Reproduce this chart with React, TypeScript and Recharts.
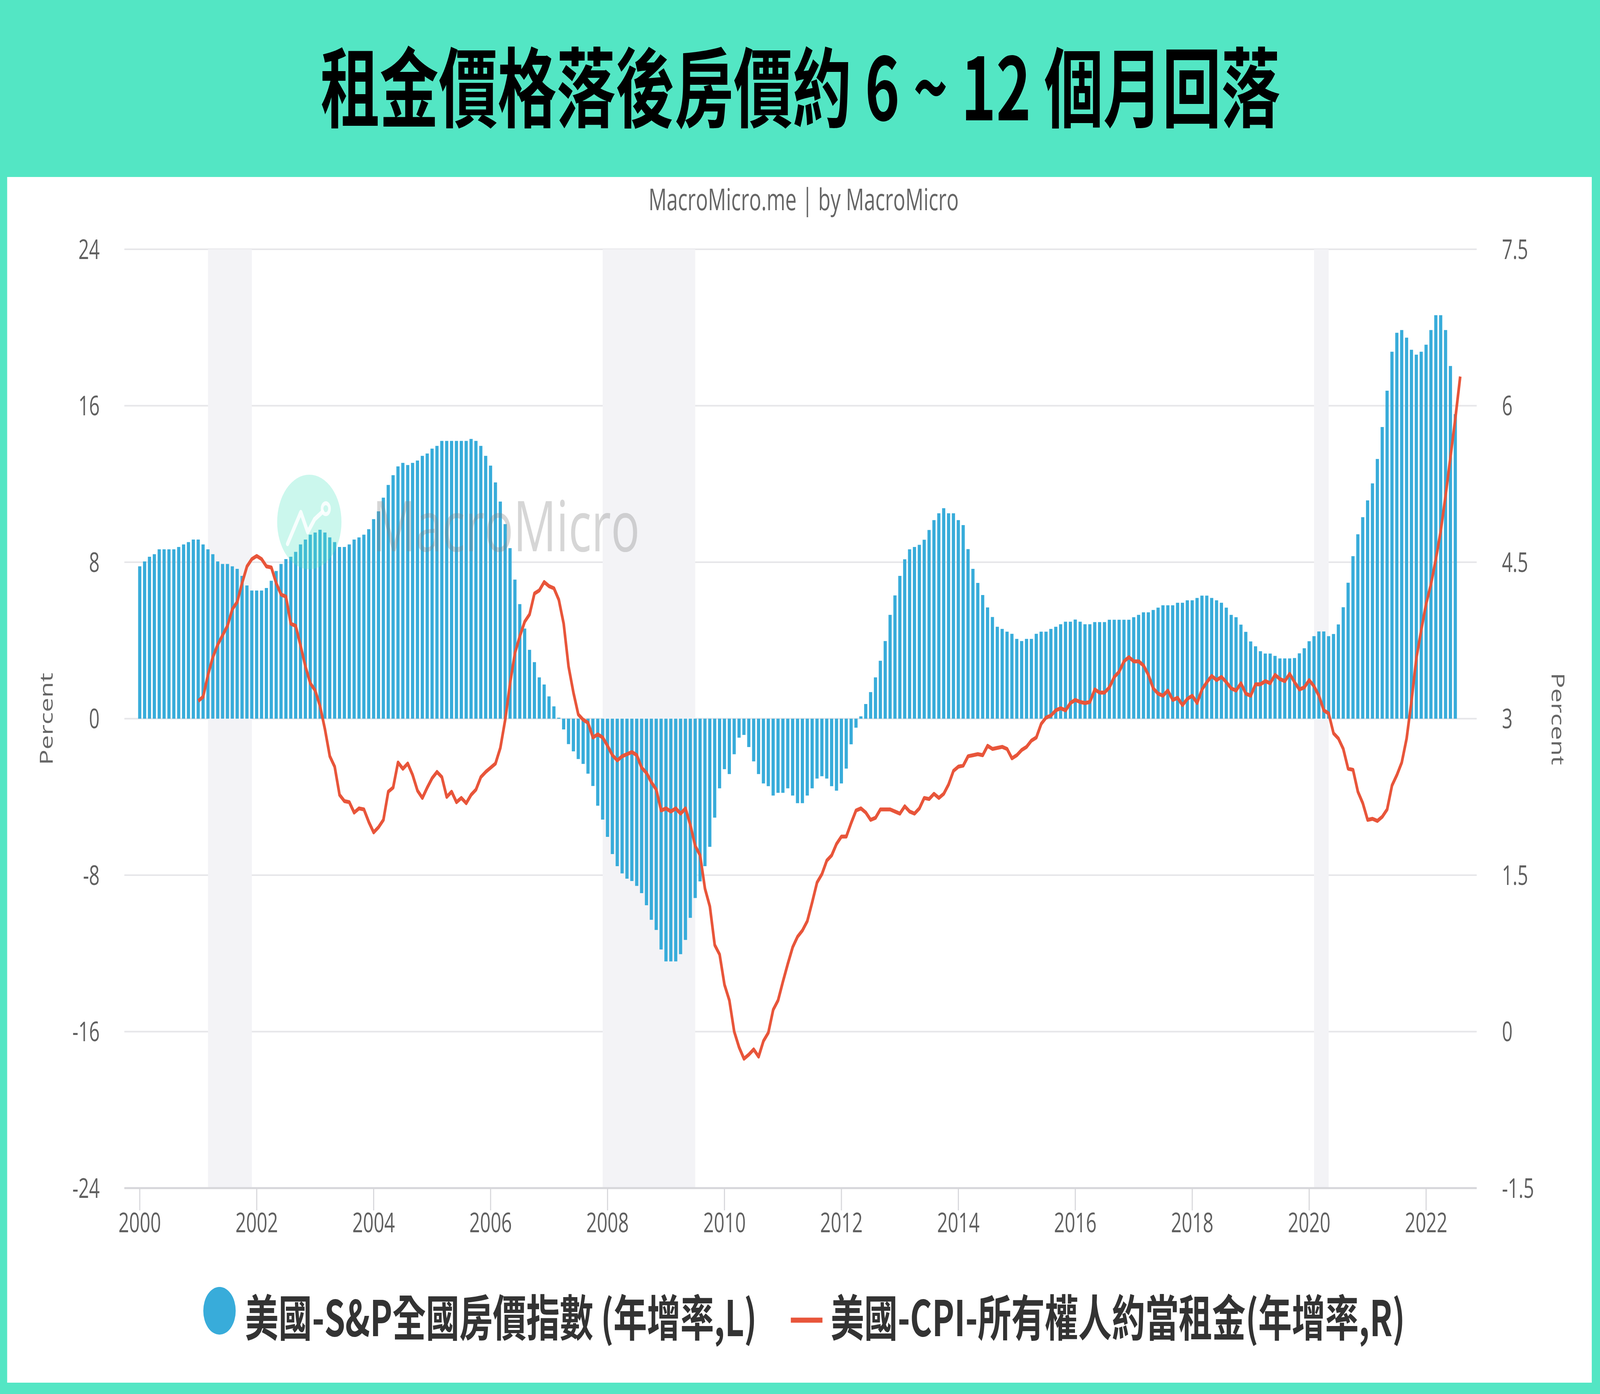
import React, { useEffect, useState } from "react";
import {
  ComposedChart,
  Bar,
  Line,
  XAxis,
  YAxis,
  CartesianGrid,
  ReferenceArea,
} from "recharts";

// S&P national home price index, YoY %, monthly from 2000-01 (left axis)
const HPI_START = "2000-01";
const HPI_YOY = [
  7.79, 8.04, 8.28, 8.41, 8.66, 8.66, 8.66, 8.66, 8.78, 8.91, 9.03, 9.16,
  9.16, 8.91, 8.66, 8.41, 8.04, 7.91, 7.91, 7.79, 7.66, 7.3, 6.81, 6.55,
  6.55, 6.55, 6.68, 7.05, 7.55, 7.91, 8.16, 8.28, 8.53, 8.91, 9.16, 9.41,
  9.52, 9.66, 9.52, 9.27, 9.03, 8.78, 8.78, 8.91, 9.16, 9.27, 9.41, 9.69,
  10.2, 10.6, 11.3, 11.95, 12.45, 12.9, 13.08, 12.97, 13.08, 13.2, 13.44, 13.56,
  13.81, 13.95, 14.2, 14.2, 14.2, 14.2, 14.2, 14.2, 14.3, 14.2, 13.95, 13.44,
  12.94, 12.08, 11.1, 9.95, 8.72, 7.11, 5.86, 4.61, 3.52, 2.89, 2.11, 1.75,
  1.14, 0.63, 0.05, -0.55, -1.3, -1.67, -2.06, -2.31, -2.81, -3.44, -4.45, -5.16,
  -6.04, -6.92, -7.54, -7.91, -8.18, -8.3, -8.55, -8.92, -9.54, -10.28, -10.8, -11.8,
  -12.41, -12.41, -12.41, -12.04, -11.31, -10.18, -9.17, -8.32, -7.54, -6.55, -5.06, -3.56,
  -2.58, -2.83, -1.82, -0.97, -0.83, -1.45, -2.18, -2.83, -3.31, -3.45, -3.93, -3.79,
  -3.79, -3.56, -3.93, -4.32, -4.32, -3.93, -3.56, -3.06, -2.94, -3.06, -3.45, -3.68,
  -3.31, -2.55, -1.31, -0.46, 0.12, 0.75, 1.36, 2.11, 2.96, 3.97, 5.31, 6.3,
  7.3, 8.15, 8.66, 8.78, 8.89, 9.15, 9.65, 10.15, 10.5, 10.76, 10.5, 10.5,
  10.15, 9.9, 8.67, 7.66, 6.94, 6.32, 5.69, 5.2, 4.7, 4.59, 4.45, 4.34,
  4.08, 3.97, 4.08, 4.08, 4.34, 4.45, 4.45, 4.59, 4.7, 4.83, 4.96, 4.96,
  5.07, 4.96, 4.83, 4.83, 4.94, 4.94, 4.94, 5.06, 5.06, 5.06, 5.06, 5.06,
  5.19, 5.31, 5.44, 5.44, 5.56, 5.68, 5.8, 5.8, 5.8, 5.93, 5.93, 6.05,
  6.05, 6.17, 6.29, 6.29, 6.17, 6.05, 5.93, 5.68, 5.31, 5.19, 4.81, 4.44,
  3.95, 3.7, 3.45, 3.33, 3.33, 3.21, 3.08, 3.08, 3.08, 3.1, 3.34, 3.6,
  3.96, 4.22, 4.46, 4.46, 4.22, 4.33, 4.82, 5.7, 6.95, 8.31, 9.43, 10.3,
  11.16, 12.03, 13.28, 14.91, 16.77, 18.76, 19.73, 19.87, 19.48, 18.86, 18.61, 18.76,
  19.12, 19.87, 20.63, 20.63, 19.87, 18.03, 15.57,
];

// CPI owners' equivalent rent, YoY %, monthly from 2001-01 (right axis)
const RENT_START = "2001-01";
const RENT_YOY = [
  3.17, 3.21, 3.42, 3.59, 3.71, 3.8, 3.89, 4.05, 4.12, 4.3, 4.46, 4.53,
  4.56, 4.53, 4.46, 4.45, 4.3, 4.19, 4.17, 3.91, 3.89, 3.7, 3.5, 3.34,
  3.27, 3.12, 2.9, 2.64, 2.54, 2.27, 2.21, 2.2, 2.1, 2.14, 2.13, 2.01,
  1.91, 1.96, 2.03, 2.3, 2.34, 2.58, 2.52, 2.57, 2.46, 2.31, 2.24, 2.34,
  2.43, 2.49, 2.44, 2.25, 2.3, 2.2, 2.24, 2.19, 2.27, 2.32, 2.44, 2.49,
  2.53, 2.57, 2.72, 2.99, 3.34, 3.63, 3.79, 3.93, 4.0, 4.2, 4.23, 4.31,
  4.27, 4.25, 4.14, 3.91, 3.5, 3.25, 3.04, 2.99, 2.96, 2.82, 2.85, 2.82,
  2.74, 2.65, 2.6, 2.64, 2.66, 2.68, 2.65, 2.53, 2.48, 2.39, 2.32, 2.12,
  2.14, 2.11, 2.14, 2.09, 2.14, 1.98, 1.78, 1.69, 1.37, 1.2, 0.83, 0.74,
  0.45, 0.3, 0.0, -0.15, -0.26, -0.22, -0.17, -0.24, -0.09, -0.01, 0.21, 0.3,
  0.48, 0.65, 0.81, 0.91, 0.97, 1.06, 1.24, 1.43, 1.51, 1.64, 1.69, 1.8,
  1.87, 1.87, 2.0, 2.12, 2.14, 2.1, 2.03, 2.05, 2.13, 2.13, 2.13, 2.11,
  2.09, 2.16, 2.11, 2.09, 2.14, 2.24, 2.23, 2.28, 2.24, 2.28, 2.37, 2.5,
  2.54, 2.55, 2.64, 2.65, 2.66, 2.65, 2.74, 2.71, 2.72, 2.73, 2.71, 2.62,
  2.65, 2.7, 2.73, 2.79, 2.82, 2.95, 3.01, 3.03, 3.08, 3.1, 3.08, 3.15,
  3.18, 3.16, 3.15, 3.16, 3.28, 3.25, 3.25, 3.3, 3.4, 3.45, 3.55, 3.59,
  3.55, 3.55, 3.51, 3.42, 3.29, 3.24, 3.22, 3.27, 3.18, 3.2, 3.13, 3.19,
  3.22, 3.15, 3.28, 3.35, 3.41, 3.37, 3.4, 3.35, 3.29, 3.27, 3.34, 3.24,
  3.22, 3.33, 3.33, 3.36, 3.34, 3.42, 3.38, 3.36, 3.43, 3.35, 3.28, 3.3,
  3.37, 3.31, 3.22, 3.08, 3.05, 2.86, 2.81, 2.71, 2.52, 2.51, 2.3, 2.19,
  2.03, 2.04, 2.02, 2.06, 2.13, 2.36, 2.46, 2.58, 2.81, 3.17, 3.58, 3.85,
  4.1, 4.29, 4.53, 4.8, 5.14, 5.51, 5.88, 6.28,
];

// US recessions (first and last month)
const RECESSIONS = [
  ["2001-03", "2001-11"],
  ["2007-12", "2009-06"],
  ["2020-02", "2020-04"],
];

const YEAR_LABELS = ["2000", "2002", "2004", "2006", "2008", "2010", "2012", "2014", "2016", "2018", "2020", "2022"];
const LEFT_TICKS = [-24, -16, -8, 0, 8, 16, 24];
const RIGHT_TICKS = [-1.5, 0, 1.5, 3, 4.5, 6, 7.5];

const TITLE = "租金價格落後房價約 6 ~ 12 個月回落";
const SOURCE = "MacroMicro.me | by MacroMicro";
const HPI_NAME = "美國-S&P全國房價指數 (年增率,L)";
const RENT_NAME = "美國-CPI-所有權人約當租金(年增率,R)";

const BAR_COLOR = "#38acda";
const LINE_COLOR = "#e8553a";
const TEAL = "#53e6c4";
const CJK = "'Noto Sans CJK TC', 'Noto Sans', sans-serif";
const LATIN = "'Open Sans', 'Noto Sans', sans-serif";

// month index counted from 2000-01
const monthIndex = (ym: string) => {
  const [y, m] = ym.split("-").map(Number);
  return (y - 2000) * 12 + (m - 1);
};

const hpiOffset = monthIndex(HPI_START);
const rentOffset = monthIndex(RENT_START);
const lastIndex = Math.max(hpiOffset + HPI_YOY.length, rentOffset + RENT_YOY.length) - 1;

const data = Array.from({ length: lastIndex + 1 }, (_, i) => {
  const h = i - hpiOffset;
  const r = i - rentOffset;
  return {
    i,
    hpi: h >= 0 && h < HPI_YOY.length ? HPI_YOY[h] : null,
    rent: r >= 0 && r < RENT_YOY.length ? RENT_YOY[r] : null,
  };
});

const yearTicks = YEAR_LABELS.map((y) => monthIndex(`${y}-01`));

const W = 6021;
const H = 3568;

// the page may be narrower than the design; squeeze it to fit the window
function useFit() {
  const get = () => ({
    sx: Math.min(1, window.innerWidth / W),
    sy: Math.min(1, window.innerHeight / H),
  });
  const [fit, setFit] = useState(get);
  useEffect(() => {
    const onResize = () => setFit(get());
    window.addEventListener("resize", onResize);
    return () => window.removeEventListener("resize", onResize);
  }, []);
  return fit;
}

export default function App() {
  const { sx, sy } = useFit();
  const tickStyle = { fill: "#606060", fontSize: 70, fontFamily: LATIN };
  return (
    <div style={{ width: W * sx, height: H * sy, overflow: "hidden", background: TEAL }}>
      <style>{`body{margin:0}`}</style>
      <div
        style={{
          position: "relative",
          width: W,
          height: H,
          background: TEAL,
          transform: `scale(${sx}, ${sy})`,
          transformOrigin: "0 0",
        }}
      >
        <div
          style={{ position: "absolute", left: 27, top: 453, width: 5963, height: 3086, background: "#ffffff" }}
        />
        <div style={{ position: "absolute", left: 0, top: 0 }}>
          <ComposedChart
            width={W}
            height={H}
            data={data}
            margin={{ top: 638, right: 164, bottom: 327, left: 0 }}
          >
            <CartesianGrid yAxisId="L" vertical={false} stroke="#e6e6e9" strokeWidth={4} />
            {RECESSIONS.map(([a, b]) => (
              <ReferenceArea
                key={a}
                yAxisId="L"
                x1={monthIndex(a)}
                x2={monthIndex(b) + 1}
                fill="#f3f3f6"
                fillOpacity={1}
                stroke="none"
              />
            ))}
            <XAxis
              dataKey="i"
              type="number"
              domain={["dataMin", "dataMax"]}
              padding={{ left: 58, right: 62 }}
              ticks={yearTicks}
              tickFormatter={(v: number) => YEAR_LABELS[yearTicks.indexOf(v)] ?? ""}
              interval={0}
              height={200}
              tickSize={57}
              tickMargin={6}
              tick={tickStyle}
              axisLine={{ stroke: "#d6d6da", strokeWidth: 5 }}
              tickLine={{ stroke: "#d6d6da", strokeWidth: 4 }}
            />
            <YAxis
              yAxisId="L"
              domain={[-24, 24]}
              ticks={LEFT_TICKS}
              interval={0}
              width={468}
              tickSize={0}
              tickMargin={93}
              axisLine={false}
              tickLine={false}
              tick={tickStyle}
            />
            <YAxis
              yAxisId="R"
              orientation="right"
              domain={[-1.5, 7.5]}
              ticks={RIGHT_TICKS}
              interval={0}
              width={300}
              tickSize={0}
              tickMargin={95}
              axisLine={false}
              tickLine={false}
              tick={tickStyle}
            />
            <Bar dataKey="hpi" yAxisId="L" fill={BAR_COLOR} barSize={12} isAnimationActive={false} />
            <Line
              dataKey="rent"
              yAxisId="R"
              type="linear"
              stroke={LINE_COLOR}
              strokeWidth={10}
              strokeLinejoin="round"
              dot={false}
              activeDot={false}
              isAnimationActive={false}
            />
          </ComposedChart>
        </div>

        <svg
          width={W}
          height={H}
          style={{ position: "absolute", left: 0, top: 0, pointerEvents: "none" }}
        >
          <text x={3012} y={308} textAnchor="middle" fontSize={222} fontWeight={700} fontFamily={CJK} fill="#000">
            {TITLE}
          </text>
          <text x={3024} y={538} textAnchor="middle" fontSize={76} fontFamily={LATIN} fill="#666">
            {SOURCE}
          </text>
          <text
            transform="translate(174,1840) rotate(-90)"
            textAnchor="middle"
            dominantBaseline="central"
            fontSize={66}
            fontFamily={LATIN}
            fill="#666"
          >
            Percent
          </text>
          <text
            transform="translate(5864,1840) rotate(90)"
            textAnchor="middle"
            dominantBaseline="central"
            fontSize={66}
            fontFamily={LATIN}
            fill="#666"
          >
            Percent
          </text>

          {/* watermark */}
          <circle cx={1164} cy={1336} r={121} fill={TEAL} fillOpacity={0.3} />
          <polyline
            points="1082,1392 1132,1311 1158,1362 1184,1329 1214,1310"
            fill="none"
            stroke="#fff"
            strokeOpacity={0.85}
            strokeWidth={12}
            strokeLinejoin="round"
            strokeLinecap="round"
          />
          <circle cx={1226} cy={1302} r={14} fill="none" stroke="#fff" strokeOpacity={0.85} strokeWidth={10} />
          <text x={1402} y={1411} fontSize={180} fontFamily={LATIN} fill="#808080" fillOpacity={0.32}>
            MacroMicro
          </text>

          {/* legend */}
          <circle cx={826} cy={3355} r={61} fill={BAR_COLOR} />
          <text x={922} y={3420} fontSize={126} fontWeight={700} fontFamily={CJK} fill="#333">
            {HPI_NAME}
          </text>
          <line x1={2976} x2={3095} y1={3379} y2={3379} stroke={LINE_COLOR} strokeWidth={13} />
          <text x={3126} y={3420} fontSize={126} fontWeight={700} fontFamily={CJK} fill="#333">
            {RENT_NAME}
          </text>
        </svg>
      </div>
    </div>
  );
}
